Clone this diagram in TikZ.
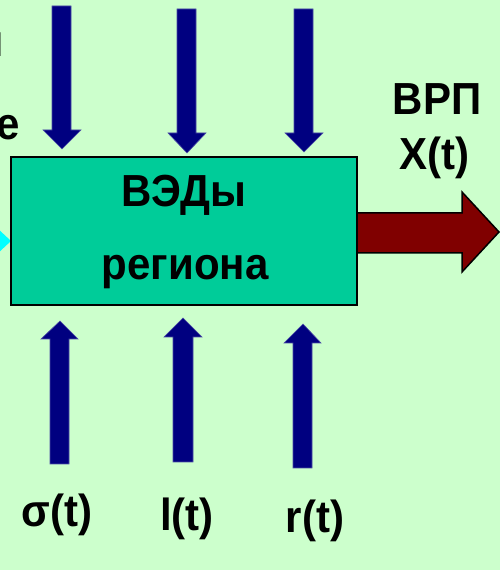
\documentclass[tikz,border=0pt]{standalone}
\usepackage{fontspec}
\usepackage{graphicx}
\setmainfont{Liberation Sans}
\definecolor{bg}{HTML}{CCFFCC}
\definecolor{boxfill}{HTML}{00CC99}
\definecolor{navy}{HTML}{000080}
\definecolor{maroon}{HTML}{800000}
\definecolor{cyanarrow}{HTML}{00FFFF}
\newcommand{\tall}[1]{\scalebox{1}[1.07]{#1}}
\begin{document}
\begin{tikzpicture}[x=1pt,y=1pt,
  lbl/.style={inner sep=0pt,font=\fontsize{42}{46}\selectfont\bfseries},
  navyarrow/.style={fill=navy,draw=navy!70,line width=0.6pt},
]
\useasboundingbox (0,0) rectangle (500,570);
\fill[bg] (0,0) rectangle (500,570);
\begin{scope}
\clip (0,0) rectangle (500,570);
% cut-off texts at the left edge
\node[lbl,anchor=base east] (ta) at (4,513) {\tall{н}};
\node[lbl,anchor=base east] (tb) at (20,430) {\tall{е}};
% left cyan arrow
\fill[cyanarrow] (-4,343) -- (11,329) -- (-4,315) -- cycle;
\end{scope}
% main box
\node[draw=black,line width=2pt,fill=boxfill,minimum width=346pt,minimum height=148pt,inner sep=0pt] (box) at (184,339) {};
\node[lbl,anchor=base] (t1) at (184,363) {\tall{ВЭДы}};
\node[lbl,anchor=base] (t2) at (185,290) {\tall{региона}};
% top arrows
\filldraw[navyarrow] (52,564) -- (71,564) -- (71,440) -- (81,440) -- (62,421) -- (43,440) -- (52,440) -- cycle;
\filldraw[navyarrow] (177,561) -- (196,561) -- (196,437) -- (206,437) -- (187,417) -- (168,437) -- (177,437) -- cycle;
\filldraw[navyarrow] (294,561) -- (313,561) -- (313,437) -- (323,437) -- (304,418) -- (285,437) -- (294,437) -- cycle;
% bottom arrows
\filldraw[navyarrow] (50,106) -- (69,106) -- (69,231) -- (78,231) -- (60,249) -- (41,231) -- (50,231) -- cycle;
\filldraw[navyarrow] (173,108) -- (193,108) -- (193,233) -- (202,233) -- (183,252) -- (164,233) -- (173,233) -- cycle;
\filldraw[navyarrow] (293,102) -- (312,102) -- (312,227) -- (321,227) -- (303,246) -- (284,227) -- (293,227) -- cycle;
% right output arrow
\filldraw[fill=maroon,draw=black,line width=1.5pt] (box.east |- 0,357) -- (462,357) -- (462,378) -- (499,338) -- (462,298) -- (462,317) -- (box.east |- 0,317);
% labels
\node[lbl,anchor=base] (vrp) at (437,455) {\tall{ВРП}};
\node[lbl,anchor=base] (xt) at (434,400) {\tall{X(t)}};
\node[lbl,anchor=base] (sig) at (57,43) {\tall{σ(t)}};
\node[lbl,anchor=base] (lt) at (187,39) {\tall{l(t)}};
\node[lbl,anchor=base] (rt) at (315,37) {\tall{r(t)}};
\end{tikzpicture}
\end{document}
